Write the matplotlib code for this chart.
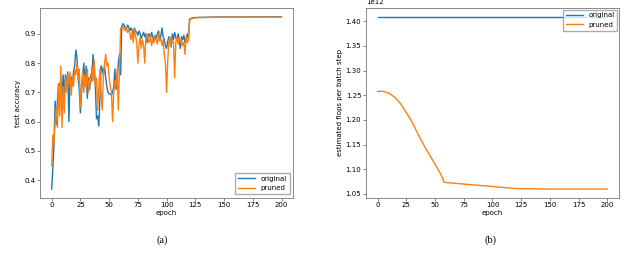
import matplotlib
matplotlib.use("Agg")
import matplotlib.pyplot as plt

# (a) test accuracy per epoch
epochs = list(range(201))
acc_original = [
    0.37, 0.44, 0.52, 0.67, 0.59, 0.67, 0.73, 0.72, 0.74, 0.68,
    0.76, 0.70, 0.76, 0.72, 0.77, 0.60, 0.76, 0.75, 0.73, 0.77,
    0.79, 0.845, 0.82, 0.76, 0.71, 0.63, 0.70, 0.76, 0.80, 0.72,
    0.79, 0.68, 0.75, 0.71, 0.76, 0.74, 0.83, 0.78, 0.72, 0.61,
    0.62, 0.585, 0.68, 0.79, 0.78, 0.76, 0.79, 0.75, 0.72, 0.70,
    0.695, 0.695, 0.69, 0.70, 0.72, 0.78, 0.71, 0.74, 0.80, 0.83,
    0.76, 0.925, 0.935, 0.93, 0.92, 0.915, 0.93, 0.925, 0.91, 0.92,
    0.915, 0.90, 0.92, 0.91, 0.905, 0.895, 0.91, 0.90, 0.885, 0.895,
    0.905, 0.89, 0.90, 0.87, 0.895, 0.90, 0.885, 0.905, 0.89, 0.875,
    0.895, 0.885, 0.90, 0.91, 0.88, 0.895, 0.92, 0.89, 0.88, 0.86,
    0.85, 0.875, 0.89, 0.87, 0.855, 0.90, 0.88, 0.905, 0.89, 0.875,
    0.90, 0.88, 0.85, 0.89, 0.88, 0.895, 0.87, 0.88, 0.90, 0.885,
    0.95, 0.952, 0.954, 0.955, 0.955, 0.956, 0.955, 0.956, 0.956, 0.957,
    0.956, 0.956, 0.957, 0.956, 0.957, 0.957, 0.956, 0.957, 0.957, 0.957,
    0.958, 0.957, 0.957, 0.958, 0.957, 0.957, 0.958, 0.957, 0.958, 0.957,
    0.958, 0.957, 0.958, 0.958, 0.957, 0.958, 0.958, 0.957, 0.958, 0.958,
    0.958, 0.957, 0.958, 0.958, 0.958, 0.957, 0.958, 0.958, 0.958, 0.958,
    0.957, 0.958, 0.958, 0.958, 0.958, 0.958, 0.957, 0.958, 0.958, 0.958,
    0.958, 0.958, 0.958, 0.957, 0.958, 0.958, 0.958, 0.958, 0.958, 0.958,
    0.958, 0.958, 0.958, 0.958, 0.958, 0.958, 0.958, 0.958, 0.958, 0.958,
    0.958,
]
acc_pruned = [
    0.45, 0.555, 0.53, 0.60, 0.65, 0.58, 0.73, 0.62, 0.79, 0.58,
    0.72, 0.63, 0.75, 0.70, 0.76, 0.73, 0.77, 0.69, 0.75, 0.72,
    0.78, 0.76, 0.80, 0.74, 0.78, 0.65, 0.73, 0.77, 0.70, 0.76,
    0.72, 0.78, 0.70, 0.75, 0.73, 0.79, 0.74, 0.81, 0.72, 0.75,
    0.64, 0.72, 0.78, 0.70, 0.64, 0.76, 0.80, 0.83, 0.79, 0.80,
    0.75, 0.72, 0.70, 0.60, 0.70, 0.74, 0.72, 0.78, 0.64, 0.78,
    0.92, 0.92, 0.925, 0.915, 0.91, 0.92, 0.905, 0.915, 0.90, 0.88,
    0.91, 0.87, 0.915, 0.895, 0.87, 0.80, 0.86, 0.89, 0.85, 0.88,
    0.86, 0.80, 0.89, 0.90, 0.88, 0.87, 0.895, 0.86, 0.88, 0.87,
    0.89, 0.88, 0.865, 0.90, 0.875, 0.885, 0.86, 0.88, 0.83, 0.80,
    0.70, 0.81, 0.87, 0.89, 0.86, 0.88, 0.87, 0.75, 0.87, 0.89,
    0.865, 0.89, 0.87, 0.88, 0.86, 0.87, 0.83, 0.89, 0.87, 0.88,
    0.945, 0.950, 0.952, 0.953, 0.954, 0.954, 0.955, 0.955, 0.955, 0.956,
    0.955, 0.956, 0.956, 0.955, 0.956, 0.956, 0.956, 0.957, 0.956, 0.956,
    0.957, 0.956, 0.957, 0.956, 0.957, 0.957, 0.956, 0.957, 0.957, 0.957,
    0.957, 0.957, 0.956, 0.957, 0.957, 0.957, 0.957, 0.957, 0.957, 0.957,
    0.957, 0.957, 0.957, 0.957, 0.957, 0.957, 0.957, 0.957, 0.957, 0.957,
    0.957, 0.957, 0.957, 0.957, 0.957, 0.957, 0.957, 0.957, 0.957, 0.957,
    0.957, 0.957, 0.957, 0.957, 0.957, 0.957, 0.957, 0.957, 0.957, 0.957,
    0.957, 0.957, 0.957, 0.957, 0.957, 0.957, 0.957, 0.957, 0.957, 0.957,
    0.957,
]

# (b) estimated flops per batch step
flops_original_epochs = [0, 200]
flops_original = [1.409e12, 1.409e12]
flops_pruned_epochs = [0, 5, 10, 15, 20, 25, 30, 35, 40, 45, 50, 55, 58, 60,
                       70, 80, 90, 100, 110, 120, 130, 150, 175, 200]
flops_pruned = [1.258e12, 1.258e12, 1.254e12, 1.246e12, 1.233e12, 1.215e12,
                1.196e12, 1.172e12, 1.150e12, 1.130e12, 1.110e12, 1.090e12,
                1.074e12, 1.073e12, 1.071e12, 1.069e12, 1.067e12, 1.065e12,
                1.063e12, 1.061e12, 1.0605e12, 1.060e12, 1.060e12, 1.060e12]

BLUE = "#1f77b4"
ORANGE = "#ff7f0e"
FS = 5

fig = plt.figure(figsize=(6.4, 2.66), dpi=100)
ax1 = fig.add_axes([0.0628, 0.257, 0.395, 0.712])
ax2 = fig.add_axes([0.572, 0.257, 0.395, 0.712])

ax1.plot(epochs, acc_original, color=BLUE, lw=1.0, label="original")
ax1.plot(epochs, acc_pruned, color=ORANGE, lw=1.0, label="pruned")
ax1.set_yticks([0.4, 0.5, 0.6, 0.7, 0.8, 0.9])
ax1.set_ylabel("test accuracy", fontsize=FS, labelpad=2)
ax1.legend(loc="lower right", fontsize=FS, fancybox=False, edgecolor="#999999",
           handlelength=2.5)

ax2.plot(flops_original_epochs, flops_original, color=BLUE, lw=1.0, label="original")
ax2.plot(flops_pruned_epochs, flops_pruned, color=ORANGE, lw=1.0, label="pruned")
ax2.set_ylim(1.0425e12, 1.4265e12)
ax2.set_ylabel("estimated flops per batch step", fontsize=FS, labelpad=2)
ax2.legend(loc="upper right", fontsize=FS, fancybox=False, edgecolor="#999999",
           handlelength=2.5, borderaxespad=0.2)
ax2.yaxis.get_offset_text().set_fontsize(FS)

for ax in (ax1, ax2):
    ax.set_xlim(-10, 210)
    ax.set_xticks([0, 25, 50, 75, 100, 125, 150, 175, 200])
    ax.set_xlabel("epoch", fontsize=FS, labelpad=1)
    ax.tick_params(labelsize=FS, length=2, width=0.5, pad=1.5, color="#555555")
    for s in ax.spines.values():
        s.set_linewidth(0.6)
        s.set_color("#777777")

fig.text(0.253, 0.098, "(a)", ha="center", va="center", fontsize=7.5,
         family="Liberation Serif")
fig.text(0.766, 0.098, "(b)", ha="center", va="center", fontsize=7.5,
         family="Liberation Serif")

fig.savefig("out.png", dpi=100)
